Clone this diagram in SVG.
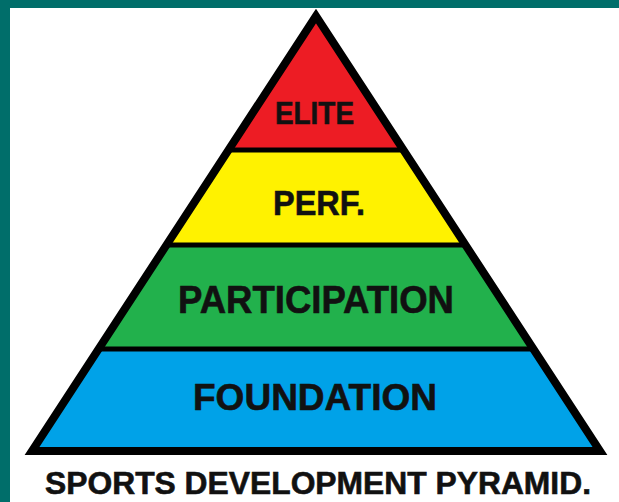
<svg xmlns="http://www.w3.org/2000/svg" width="619" height="502" viewBox="0 0 619 502">
<style>
.lbl{font-family:"Liberation Sans",Arial,sans-serif;font-weight:bold;fill:#111;stroke:#111;stroke-width:0.6;text-anchor:middle}
.div{stroke:#000;stroke-width:5}
</style>
<defs>
<clipPath id="tri"><polygon points="316,16 32,451 600,451"/></clipPath>
</defs>
<rect x="0" y="0" width="619" height="502" fill="#fff"/>
<rect x="0" y="0" width="619" height="8" fill="#006e6a"/>
<rect x="0" y="0" width="10" height="502" fill="#006e6a"/>
<g clip-path="url(#tri)">
<g id="elite"><rect x="0" y="0" width="619" height="150" fill="#ed1c24"/></g>
<g id="perf"><rect x="0" y="150" width="619" height="95" fill="#fff200"/></g>
<g id="participation"><rect x="0" y="245" width="619" height="104" fill="#22b14c"/></g>
<g id="foundation"><rect x="0" y="349" width="619" height="110" fill="#00a2e8"/></g>
<line class="div" x1="0" y1="150" x2="619" y2="150"/>
<line class="div" x1="0" y1="245" x2="619" y2="245"/>
<line class="div" x1="0" y1="349" x2="619" y2="349"/>
</g>
<polygon points="316,16 32,451 600,451" fill="none" stroke="#000" stroke-width="8" stroke-linejoin="miter" stroke-miterlimit="10"/>
<text class="lbl" x="314.5" y="124" font-size="31" textLength="79" lengthAdjust="spacingAndGlyphs">ELITE</text>
<text class="lbl" x="319" y="215" font-size="35" textLength="92" lengthAdjust="spacingAndGlyphs">PERF.</text>
<text class="lbl" x="316" y="313" font-size="38" textLength="276" lengthAdjust="spacingAndGlyphs">PARTICIPATION</text>
<text class="lbl" x="315" y="410" font-size="37" textLength="244" lengthAdjust="spacingAndGlyphs">FOUNDATION</text>
<text class="lbl" x="318" y="494" font-size="31" textLength="546" lengthAdjust="spacingAndGlyphs">SPORTS DEVELOPMENT PYRAMID.</text>
</svg>
